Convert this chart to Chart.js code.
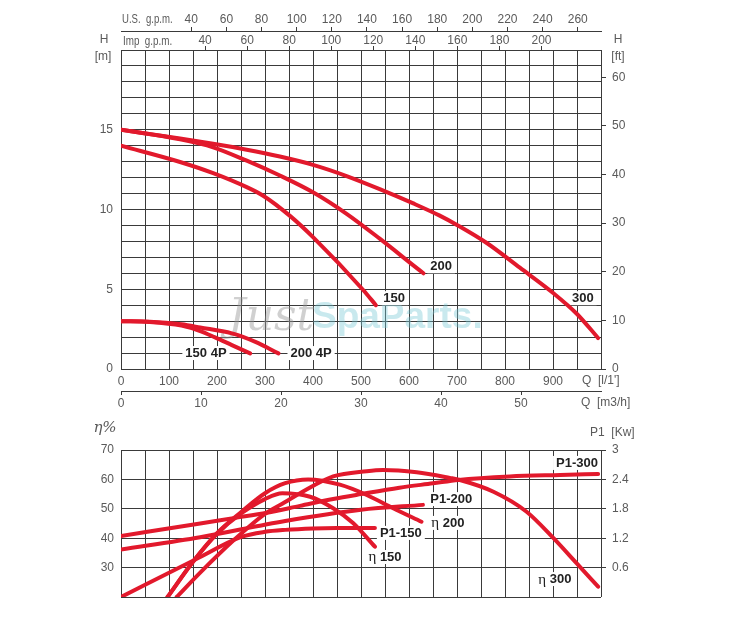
<!DOCTYPE html>
<html>
<head>
<meta charset="utf-8">
<script src="https://cdn.jsdelivr.net/npm/chart.js@4.4.0/dist/chart.umd.min.js"></script>
<style>
  body { margin: 0; background: #fff; width: 740px; height: 617px; overflow: hidden; position: relative; }
  canvas { position: absolute; left: 0; }
  #top { top: 0; }
  #bot { top: 415px; }
</style>
</head>
<body>
<canvas id="top" width="740" height="415"></canvas>
<canvas id="bot" width="740" height="202"></canvas>
<script>
// head curves: flow Q [l/min] and head H [m]
const q150 = [0, 123, 192, 262, 297, 352, 400, 505, 531];
const h150 = [14, 12.98, 12.28, 11.4, 10.85, 9.6, 8.27, 4.94, 4.0];
const q200 = [0, 123, 192, 262, 331, 400, 470, 539, 609, 630];
const h200 = [15, 14.4, 13.9, 13.06, 12.13, 11.08, 9.73, 8.17, 6.5, 6.0];
const q300 = [0, 123, 192, 262, 331, 400, 470, 539, 609, 663, 700, 762, 831, 901, 950, 994];
const h300 = [15, 14.45, 14.12, 13.75, 13.32, 12.8, 12.1, 11.28, 10.38, 9.63, 9.03, 7.9, 6.35, 4.75, 3.45, 1.94];
const q150_4p = [0, 60, 126, 165, 196, 231, 269];
const h150_4p = [3, 2.95, 2.72, 2.38, 1.98, 1.5, 0.98];
const q200_4p = [0, 60, 126, 165, 231, 280, 328];
const h200_4p = [3, 2.97, 2.8, 2.6, 2.23, 1.7, 0.98];

// efficiency [%]
const qEta150 = [97, 150, 200, 251, 300, 336, 394, 442, 484, 529];
const eta150 = [20, 32, 41.5, 48.5, 53.3, 55.3, 54.1, 50.2, 45.1, 37.1];
const qEta200 = [97, 150, 200, 251, 300, 342, 390, 456, 512, 567, 626];
const eta200 = [20, 32, 41.7, 49, 55.3, 58.7, 60, 58.2, 54.7, 50.2, 45.6];
const qEta300 = [116, 165, 234, 300, 342, 373, 442, 512, 546, 616, 685, 706, 776, 845, 901, 949, 994];
const eta300 = [20, 28.3, 39.2, 48.3, 52.3, 55.3, 61, 62.8, 63.2, 62.4, 60.5, 59.8, 55.8, 49, 40, 31.5, 23.5];

// absorbed power P1 [kW]
const qP150 = [0, 154, 252, 300, 342, 400, 450, 529];
const p150 = [0, 0.76, 1.23, 1.33, 1.37, 1.4, 1.41, 1.41];
const qP200 = [0, 165, 342, 500, 629];
const p200 = [0.97, 1.22, 1.55, 1.78, 1.88];
const qP300 = [0, 165, 234, 304, 373, 442, 500, 580, 650, 703, 810, 915, 994];
const p300 = [1.245, 1.5, 1.61, 1.72, 1.86, 2.0, 2.1, 2.23, 2.32, 2.39, 2.46, 2.49, 2.51];

// tick labels of the extra axes
const usTicks = [40, 60, 80, 100, 120, 140, 160, 180, 200, 220, 240, 260];
const impTicks = [40, 60, 80, 100, 120, 140, 160, 180, 200];
const m3hTicks = [0, 10, 20, 30, 40, 50];
const ftTicks = [0, 10, 20, 30, 40, 50, 60];
const kwTicks = [0.6, 1.2, 1.8, 2.4, 3];

const Q_MAX = 1000;
const H_MAX = 20;
const LPM_PER_M3H = 1000 / 60;
const LPM_PER_USGPM = 3.66;   // as printed on the sheet
const LPM_PER_IMPGPM = 4.38;
const FT_PER_M = 3.2808;

const RED = "#e2192c";
const GRID = "#3a3a3a";
const TICK_FONT = "'Liberation Sans', Arial, sans-serif";
const TAG_FONT = "'Liberation Sans', Arial, sans-serif";

Chart.defaults.font.family = TICK_FONT;
Chart.defaults.font.size = 12;
Chart.defaults.color = "#5a5a5a";

const curve = (qs, vs, axis) => ({
  data: qs.map((q, i) => ({ x: q, y: vs[i] })),
  yAxisID: axis,
  showLine: true,
  borderColor: RED,
  borderWidth: 4,
  borderCapStyle: "round",
  pointRadius: 0,
  fill: false,
  cubicInterpolationMode: "monotone",
});

const fixedTicks = (list) => (s) => { s.ticks = list.map((v) => ({ value: v })); };

// label with white knock-out box, parts = [[text, bold], ...]
function drawTag(ctx, x, y, parts) {
  ctx.save();
  ctx.textBaseline = "middle";
  ctx.textAlign = "left";
  const fonts = parts.map((p) => (p[1] ? "bold 13px " + TAG_FONT : "15px 'Liberation Serif', serif"));
  const ws = parts.map((p, i) => { ctx.font = fonts[i]; return ctx.measureText(p[0]).width; });
  const w = ws.reduce((a, b) => a + b, 0);
  ctx.fillStyle = "#fff";
  ctx.fillRect(x - w / 2 - 3, y - 7, w + 6, 14);
  ctx.fillStyle = "#222";
  let cx = x - w / 2;
  parts.forEach((p, i) => { ctx.font = fonts[i]; ctx.fillText(p[0], cx, y + 0.5); cx += ws[i]; });
  ctx.restore();
}

function drawText(ctx, items) {
  items.forEach((t) => {
    ctx.save();
    ctx.fillStyle = "#5a5a5a";
    ctx.textBaseline = "middle";
    ctx.font = t.font || "12px " + TICK_FONT;
    ctx.textAlign = t.align || "left";
    ctx.translate(t.x, t.y);
    ctx.scale(t.sx || 1, 1);
    ctx.fillText(t.text, 0, 0);
    ctx.restore();
  });
}

const topTags = [
  { q: 667, v: 6.44, parts: [["200", true]] },
  { q: 569, v: 4.44, parts: [["150", true]] },
  { q: 962, v: 4.44, parts: [["300", true]] },
  { q: 177, v: 1.0, parts: [["150 4P", true]] },
  { q: 396, v: 1.0, parts: [["200 4P", true]] },
];
const botTags = [
  { q: 950, v: 65.6, parts: [["P1-300", true]] },
  { q: 688, v: 53.3, parts: [["P1-200", true]] },
  { q: 681, v: 45.2, parts: [["η", false], [" 200", true]] },
  { q: 583, v: 41.8, parts: [["P1-150", true]] },
  { q: 550, v: 33.6, parts: [["η", false], [" 150", true]] },
  { q: 904, v: 26.1, parts: [["η", false], [" 300", true]] },
];

const tagPlugin = (tags) => ({
  id: "tags",
  beforeDatasetsDraw(chart) {
    const { ctx, scales } = chart;
    if (chart.canvas.id === "top") {
      // site watermark
      ctx.save();
      ctx.textBaseline = "alphabetic";
      ctx.font = "italic 44px 'DejaVu Serif', serif";
      ctx.fillStyle = "rgba(150,150,150,0.45)";
      ctx.fillText("Just", 228, 330);
      ctx.font = "bold 37px " + TAG_FONT;
      ctx.fillStyle = "rgba(120,200,212,0.4)";
      ctx.fillText("SpaParts.", 312, 328);
      ctx.restore();
    }
    tags.forEach((t) => drawTag(ctx, scales.x.getPixelForValue(t.q), scales.y.getPixelForValue(t.v), t.parts));
  },
  afterDraw(chart) {
    if (chart.canvas.id === "top") {
      drawText(chart.ctx, [
        { text: "U.S.  g.p.m.", x: 122, y: 20, sx: 0.8 },
        { text: "Imp  g.p.m.", x: 123, y: 42, sx: 0.82 },
        { text: "H", x: 104, y: 40, align: "center" },
        { text: "[m]", x: 103, y: 57, align: "center" },
        { text: "H", x: 618, y: 40, align: "center" },
        { text: "[ft]", x: 618, y: 57, align: "center" },
        { text: "Q  [l/1']", x: 582, y: 381 },
        { text: "Q  [m3/h]", x: 581, y: 403 },
      ]);
    } else {
      drawText(chart.ctx, [
        { text: "η%", x: 105, y: 13, align: "center", font: "italic 15px 'DejaVu Serif', serif" },
        { text: "P1  [Kw]", x: 590, y: 18 },
      ]);
    }
  },
});

const tickColor = (list) => (c) => (c.tick && list.includes(c.tick.value) ? GRID : "rgba(0,0,0,0)");

new Chart(document.getElementById("top"), {
  type: "scatter",
  data: {
    datasets: [
      curve(q150, h150, "y"),
      curve(q200, h200, "y"),
      curve(q300, h300, "y"),
      curve(q150_4p, h150_4p, "y"),
      curve(q200_4p, h200_4p, "y"),
    ],
  },
  options: {
    responsive: false,
    animation: false,
    layout: { padding: 0 },
    plugins: { legend: { display: false }, tooltip: { enabled: false } },
    scales: {
      x: {
        type: "linear", position: "bottom", min: 0, max: Q_MAX,
        ticks: { stepSize: 50, autoSkip: false, maxRotation: 0, padding: 5,
                 callback: (v) => (v % 100 === 0 && v < Q_MAX ? v : "") },
        grid: { color: GRID, drawTicks: false },
        border: { display: false },
        afterFit: (s) => { s.height = 22; },
      },
      m3h: {
        type: "linear", position: "bottom", min: 0, max: Q_MAX / LPM_PER_M3H,
        afterBuildTicks: fixedTicks(m3hTicks),
        ticks: { autoSkip: false, maxRotation: 0, padding: 1, callback: (v) => String(v) },
        grid: { drawOnChartArea: false, tickLength: 4, color: GRID },
        border: { display: true, color: GRID },
        afterFit: (s) => { s.height = 24; },
      },
      y: {
        type: "linear", position: "left", min: 0, max: H_MAX,
        ticks: { stepSize: 1, autoSkip: false, padding: 8,
                 callback: (v) => (v % 5 === 0 && v < H_MAX ? v : "") },
        grid: { color: GRID, drawTicks: false },
        border: { display: false },
        afterFit: (s) => { s.width = 121; },
      },
      ft: {
        type: "linear", position: "right", min: 0, max: H_MAX * FT_PER_M,
        afterBuildTicks: fixedTicks(ftTicks),
        ticks: { autoSkip: false, padding: 6, callback: (v) => String(v) },
        grid: { drawOnChartArea: false, tickLength: 5, color: GRID },
        border: { display: false },
        afterFit: (s) => { s.width = 139; },
      },
      imp: {
        type: "linear", position: "top", min: 0, max: Q_MAX / LPM_PER_IMPGPM,
        afterBuildTicks: fixedTicks(impTicks),
        ticks: { autoSkip: false, maxRotation: 0, padding: -2, callback: (v) => String(v) },
        grid: { drawOnChartArea: false, tickLength: 4, color: tickColor(impTicks) },
        border: { display: true, color: GRID },
        afterFit: (s) => { s.height = 19; },
      },
      us: {
        type: "linear", position: "top", min: 0, max: Q_MAX / LPM_PER_USGPM,
        afterBuildTicks: fixedTicks(usTicks),
        ticks: { autoSkip: false, maxRotation: 0, padding: 0, callback: (v) => String(v) },
        grid: { drawOnChartArea: false, tickLength: 4, color: tickColor(usTicks) },
        border: { display: true, color: GRID },
        afterFit: (s) => { s.height = 31; },
      },
    },
  },
  plugins: [tagPlugin(topTags)],
});

new Chart(document.getElementById("bot"), {
  type: "scatter",
  data: {
    datasets: [
      curve(qEta150, eta150, "y"),
      curve(qEta200, eta200, "y"),
      curve(qEta300, eta300, "y"),
      curve(qP150, p150, "p"),
      curve(qP200, p200, "p"),
      curve(qP300, p300, "p"),
    ],
  },
  options: {
    responsive: false,
    animation: false,
    layout: { padding: { top: 35 } },
    plugins: { legend: { display: false }, tooltip: { enabled: false } },
    scales: {
      x: {
        type: "linear", position: "bottom", min: 0, max: Q_MAX,
        ticks: { display: false, stepSize: 50, autoSkip: false },
        grid: { color: GRID, drawTicks: false },
        border: { display: false },
        afterFit: (s) => { s.height = 20; },
      },
      y: {
        type: "linear", position: "left", min: 20, max: 70,
        ticks: { stepSize: 10, autoSkip: false, padding: 7, callback: (v) => (v > 20 ? v : "") },
        grid: { color: GRID, drawTicks: false },
        border: { display: false },
        afterFit: (s) => { s.width = 121; },
      },
      p: {
        type: "linear", position: "right", min: 0, max: 3,
        afterBuildTicks: fixedTicks(kwTicks),
        ticks: { autoSkip: false, padding: 6, callback: (v) => String(v) },
        grid: { drawOnChartArea: false, tickLength: 5, color: GRID },
        border: { display: false },
        afterFit: (s) => { s.width = 139; },
      },
    },
  },
  plugins: [tagPlugin(botTags)],
});
</script>
</body>
</html>
